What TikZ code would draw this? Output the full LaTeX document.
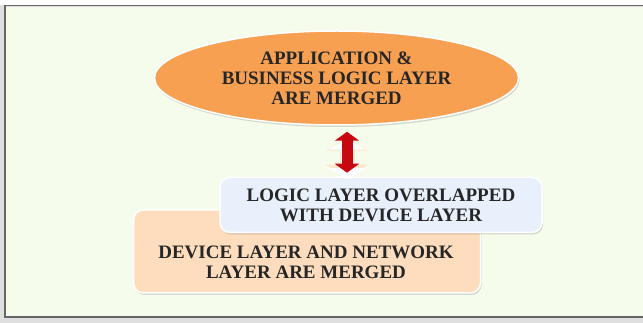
\documentclass[tikz,border=0pt]{standalone}
\usepackage{fontspec}
\setmainfont{Liberation Serif}
\usepackage{tikz}
\usetikzlibrary{shapes.geometric, shadows, arrows.meta}

\definecolor{pagebg}{RGB}{246,252,236}
\definecolor{mergeorange}{RGB}{248,160,82}
\definecolor{logicblue}{RGB}{231,240,251}
\definecolor{devicepeach}{RGB}{253,221,190}
\definecolor{arrowred}{RGB}{200,8,16}

\begin{document}
\begin{tikzpicture}[x=1pt, y=-1pt,
    layertext/.style={font=\bfseries\fontsize{19}{20}\selectfont, text=black!85, align=center},
    layerbox/.style={layertext, draw=white, line width=1.5pt, rounded corners=10pt,
        drop shadow={opacity=0.3, shadow xshift=1pt, shadow yshift=-2pt}},
    swap/.style={line width=#1, {Triangle[width=24pt, length=9pt]}-{Triangle[width=24pt, length=9pt]}}
]
    \useasboundingbox (0,0) rectangle (643,323);
    \fill[gray!25] (0,0) rectangle (643,323);
    \fill[white] (0,0) rectangle (643,5);
    \draw[pagebg, fill=pagebg] (6,7) rectangle (643,316);
    \draw[gray!80!black, line width=1.5pt] (4.5,5.5) -- (645,5.5);
    \draw[gray!80!black, line width=2pt] (4.5,5.5) -- (4.5,317) -- (645,317);

    \node[ellipse, layertext, fill=mergeorange, draw=white, line width=1.5pt,
        minimum width=364pt, minimum height=94pt,
        drop shadow={opacity=0.3, shadow xshift=1pt, shadow yshift=-2pt}]
        (app) at (336.5,78) {APPLICATION \&\\BUSINESS LOGIC LAYER\\ARE MERGED};

    \node[layerbox, fill=devicepeach, minimum width=347pt, minimum height=83pt] (device) at (307,251.5) {};
    \node[layertext] (devicetext) at ([xshift=-1pt, yshift=-10.5pt]device.center)
        {DEVICE LAYER AND NETWORK\\LAYER ARE MERGED};
    \node[layerbox, fill=logicblue, minimum width=322pt, minimum height=55pt]
        (logic) at (381,205) {LOGIC LAYER OVERLAPPED\\WITH DEVICE LAYER};

    % the red two-way arrow and its pale ghost
    \draw[swap=15pt, orange!20, {Triangle[width=42pt, length=13pt]}-{Triangle[width=42pt, length=13pt]}]
        ([xshift=10.5pt, yshift=-12pt]app.south) -- ([xshift=-34pt, yshift=-1pt]logic.north);
    \draw[swap=12pt, white, {Triangle[width=38pt, length=11pt]}-{Triangle[width=38pt, length=11pt]}]
        ([xshift=10.5pt, yshift=-13pt]app.south) -- ([xshift=-34pt, yshift=-2.5pt]logic.north);
    \draw[swap=11pt, arrowred]
        ([xshift=10.5pt, yshift=-6pt]app.south) -- ([xshift=-34pt, yshift=4pt]logic.north);
\end{tikzpicture}
\end{document}
